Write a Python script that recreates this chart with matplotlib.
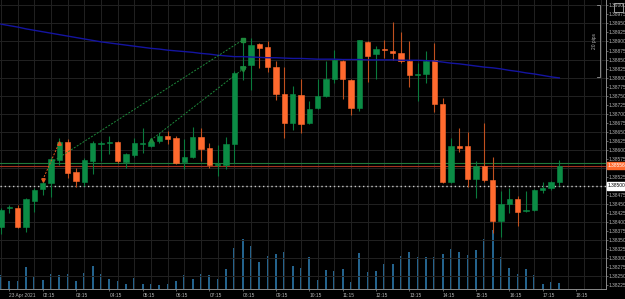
import numpy as np
import matplotlib.pyplot as plt
from matplotlib.patches import Rectangle
import matplotlib.transforms as mtransforms

plt.rcParams['font.family'] = ['Liberation Sans', 'DejaVu Sans']

# 15 minute candles, prices in pips (1e-4)
o_pips = [13838.6, 13843.8, 13843.9, 13838.7, 13845.9, 13849.0, 13850.9, 13857.1, 13862.2, 13853.9,
          13851.1, 13856.9, 13861.7, 13862.0, 13862.1, 13856.7, 13858.5, 13861.6, 13861.1, 13862.5,
          13863.8, 13863.2, 13856.7, 13858.1, 13863.6, 13860.4, 13855.8, 13855.8, 13861.6, 13882.4,
          13883.5, 13889.2, 13888.4, 13882.8, 13875.4, 13867.5, 13875.2, 13867.5, 13871.6, 13875.0,
          13879.5, 13884.6, 13879.2, 13871.6, 13889.9, 13886.5, 13887.9, 13887.4, 13886.7, 13884.6,
          13880.8, 13881.0, 13884.8, 13872.7, 13851.1, 13861.1, 13861.1, 13851.8, 13855.5, 13851.6,
          13840.2, 13844.9, 13846.3, 13843.1, 13843.3, 13848.8, 13849.3, 13851.1]
h_pips = [13843.8, 13844.7, 13844.7, 13846.6, 13849.4, 13851.9, 13858.0, 13863.2, 13862.9, 13854.9,
          13857.7, 13862.4, 13862.4, 13863.8, 13862.4, 13859.1, 13863.2, 13866.1, 13862.7, 13864.5,
          13865.2, 13863.8, 13863.0, 13866.2, 13866.1, 13861.8, 13861.3, 13863.4, 13881.8, 13890.4,
          13890.9, 13889.7, 13890.2, 13884.6, 13883.0, 13877.7, 13879.5, 13873.5, 13879.6, 13884.6,
          13887.6, 13884.9, 13879.6, 13890.4, 13890.1, 13888.8, 13890.4, 13895.5, 13892.7, 13890.1,
          13884.1, 13887.4, 13889.5, 13874.4, 13863.2, 13865.9, 13864.8, 13856.9, 13867.5, 13857.9,
          13848.6, 13849.3, 13847.2, 13848.6, 13849.1, 13851.1, 13851.3, 13857.1]
l_pips = [13836.6, 13842.5, 13838.3, 13837.2, 13842.8, 13847.4, 13847.0, 13855.8, 13852.2, 13849.7,
          13849.9, 13853.3, 13857.0, 13858.8, 13856.3, 13854.8, 13858.0, 13859.2, 13860.8, 13861.9,
          13861.6, 13856.0, 13854.6, 13857.7, 13856.8, 13854.8, 13852.8, 13854.6, 13856.2, 13879.4,
          13876.6, 13882.7, 13881.6, 13873.8, 13863.3, 13865.5, 13864.5, 13867.1, 13871.3, 13874.6,
          13878.6, 13874.0, 13869.6, 13870.7, 13878.9, 13879.5, 13885.3, 13884.9, 13884.0, 13877.5,
          13873.6, 13878.6, 13870.5, 13850.7, 13850.8, 13859.4, 13849.7, 13846.5, 13851.0, 13837.0,
          13835.7, 13842.5, 13838.9, 13842.8, 13843.0, 13848.1, 13848.8, 13850.0]
c_pips = [13843.3, 13844.0, 13838.7, 13846.3, 13848.8, 13850.9, 13857.4, 13862.2, 13853.6, 13851.3,
          13857.1, 13861.8, 13862.0, 13862.1, 13856.9, 13858.7, 13861.8, 13861.8, 13862.2, 13863.8,
          13863.1, 13856.4, 13858.1, 13863.6, 13860.2, 13855.8, 13856.0, 13861.6, 13881.4, 13883.3,
          13889.0, 13888.1, 13883.0, 13875.4, 13867.3, 13875.4, 13867.1, 13871.3, 13875.0, 13879.5,
          13884.9, 13879.5, 13871.6, 13890.4, 13886.0, 13887.8, 13887.7, 13886.7, 13884.6, 13880.7,
          13881.0, 13884.6, 13872.7, 13851.1, 13861.1, 13860.6, 13851.8, 13855.5, 13851.6, 13840.2,
          13845.0, 13846.3, 13842.7, 13843.3, 13848.8, 13849.5, 13851.0, 13855.6]
volume = [280, 170, 170, 450, 250, 180, 310, 280, 300, 160,
          330, 460, 310, 200, 160, 110, 230, 110, 100, 80,
          100, 160, 280, 200, 310, 290, 200, 400, 830, 1010,
          870, 550, 660, 700, 750, 460, 430, 650, 190, 380,
          360, 410, 140, 730, 340, 360, 500, 510, 660, 740,
          640, 640, 640, 700, 800, 740, 680, 780, 1010, 1180,
          640, 430, 310, 400, 290, 100, 140, 130]
ma_pips = [13894.8, 13894.4, 13894.0, 13893.5, 13893.1, 13892.7, 13892.3, 13891.9, 13891.5, 13891.1,
           13890.7, 13890.3, 13889.9, 13889.6, 13889.3, 13889.0, 13888.7, 13888.4, 13888.1, 13887.9,
           13887.6, 13887.4, 13887.2, 13887.0, 13886.7, 13886.5, 13886.2, 13886.0, 13885.8, 13885.8,
           13885.7, 13885.6, 13885.5, 13885.5, 13885.4, 13885.3, 13885.3, 13885.2, 13885.1, 13885.1,
           13885.1, 13885.0, 13885.0, 13885.0, 13884.9, 13884.9, 13884.9, 13884.9, 13884.8, 13884.8,
           13884.8, 13884.7, 13884.6, 13884.3, 13884.0, 13883.8, 13883.5, 13883.2, 13882.9, 13882.7,
           13882.4, 13882.0, 13881.7, 13881.3, 13881.0, 13880.6, 13880.2, 13879.9]

time_labels = ['23 Apr 2021', '02:15', '03:15', '04:15', '05:15', '06:15', '07:15', '08:15', '09:15',
               '10:15', '11:15', '12:15', '13:15', '14:15', '15:15', '16:15', '17:15', '18:15']
time_idx = [1] + [5 + 4 * i for i in range(17)]

bid = 1.38556
ask = 1.38562
level = 1.38500
# trades: (bar, price) pairs
trade_buy1 = ([6, 29], [1.38564, 1.38904])
trade_buy2 = ([18, 29], [1.38627, 1.38823])
trade_sell = ([5, 7], [1.38516, 1.38620])

o = np.array(o_pips) / 10000
h = np.array(h_pips) / 10000
l = np.array(l_pips) / 10000
c = np.array(c_pips) / 10000
ma = np.array(ma_pips) / 10000
x = np.arange(len(o))
up = c >= o

bg = '#000000'
green = '#0b8c45'
orange = '#ff6a2e'
txt = '#b4b4b4'
fs = 3.5

fig = plt.figure(figsize=(6.25, 2.99), dpi=100, facecolor=bg)
rect = [0, 10 / 299, 606 / 625, 289 / 299]
xlim = (-0.12, 72.6)
ylim = (1.38214, 1.39015)

# volume panel (behind)
vax = fig.add_axes(rect)
vax.set_facecolor(bg)
vax.vlines(x, 0, volume, color='#2f82b8', lw=1.1)
vax.set_xlim(xlim)
vax.set_ylim(0, 5780)
vax.axis('off')

ax = fig.add_axes(rect)
ax.patch.set_visible(False)
ax.set_xlim(xlim)
ax.set_ylim(ylim)

# grid
for p in np.arange(1.3825, 1.3901, 0.0005):
    ax.axhline(p, color='#222222', lw=0.7, zorder=0)
for k in np.arange(0, 73, 2):
    ax.axvline(k, color='#222222', lw=0.7, zorder=0)

# wicks and bodies
ax.vlines(x[up], l[up], h[up], color='#0a7a3c', lw=0.8, zorder=2)
ax.vlines(x[~up], l[~up], h[~up], color='#c0501f', lw=0.8, zorder=2)
body = np.maximum(np.abs(c - o), 0.000004)
ax.bar(x[up], body[up], 0.62, bottom=o[up], color=green, edgecolor=green, lw=0.4, zorder=3)
ax.bar(x[~up], body[~up], 0.62, bottom=c[~up], color=orange, edgecolor=orange, lw=0.4, zorder=3)

# moving average
ax.plot(x, ma, color='#1414a0', lw=1.0, zorder=4)

# bid / ask and level
ax.axhline(ask, color='#1f7a3a', lw=0.8, zorder=1)
ax.axhline(bid, color='#a23220', lw=0.8, zorder=1)
ax.axhline(level, color='#c8c8c8', lw=1.0, ls=(0, (1, 2)), zorder=1)

# trades
ax.plot(*trade_buy1, color='#1e8a3c', lw=0.7, ls=(0, (2, 1.5)), zorder=5)
ax.plot(*trade_buy2, color='#1e8a3c', lw=0.7, ls=(0, (2, 1.5)), zorder=5)
ax.plot(*trade_sell, color='#e05a20', lw=0.7, ls=(0, (2, 1.5)), zorder=5)
ax.plot(trade_buy1[0][1], trade_buy1[1][1], 's', color='#1e8a3c', ms=2.5, zorder=6)
ax.plot(trade_buy2[0][0], trade_buy2[1][0], '^', color='#1e8a3c', ms=3, zorder=6)
ax.plot(trade_buy2[0][1], trade_buy2[1][1], 'v', color='#1e8a3c', ms=3.5, zorder=6)
ax.plot(trade_sell[0][0], trade_sell[1][0], 'v', color='#e05a20', ms=2.5, zorder=6)
ax.plot(trade_sell[0][1], trade_sell[1][1], '^', color='#e05a20', ms=2.5, zorder=6)

# axes styling
for s in ['left', 'top']:
    ax.spines[s].set_visible(False)
ax.spines['right'].set_color('#8a8a8a')
ax.spines['bottom'].set_color('#8a8a8a')
ax.spines['right'].set_linewidth(0.7)
ax.spines['bottom'].set_linewidth(0.7)

yt = np.round(np.arange(1.38225, 1.39001, 0.00025), 5)
yl = ['' if abs(v - 1.3855) < 1e-7 or abs(v - 1.385) < 1e-7 else '%.5f' % v for v in yt]
ax.yaxis.tick_right()
ax.set_yticks(yt)
ax.set_yticklabels(yl)
ax.tick_params(axis='y', colors='#8a8a8a', labelcolor=txt, labelsize=fs, length=1.2, width=0.5, pad=0.6)

ax.set_xticks(time_idx)
ax.set_xticklabels(time_labels, ha='left')
ax.tick_params(axis='x', colors='#8a8a8a', labelcolor=txt, labelsize=fs, length=1.5, width=0.5, pad=1.2)

blend = mtransforms.blended_transform_factory(ax.transAxes, ax.transData)
ax.text(1.003, bid, '1.38556', transform=blend, ha='left', va='center', fontsize=fs, color='white',
        bbox=dict(boxstyle='square,pad=0.25', fc=orange, ec=orange), clip_on=False, zorder=10)
ax.text(1.003, level, '1.38500', transform=blend, ha='left', va='center', fontsize=fs, color='black',
        bbox=dict(boxstyle='square,pad=0.25', fc='white', ec='white'), clip_on=False, zorder=10)

# 20 pips ruler
ax.plot([71.52, 71.88, 71.88, 71.52], [1.39002, 1.39002, 1.38802, 1.38802], color='#9a9a9a', lw=0.6,
        clip_on=False)
ax.text(71.2, 1.38902, '20 pips', rotation=90, ha='center', va='center', fontsize=fs, color=txt)

# corner icon
fig.add_artist(Rectangle((614 / 625, 1 - 12 / 299), 9 / 625, 9 / 299, transform=fig.transFigure,
                         fill=False, ec='#b0b0b0', lw=0.6))

fig.savefig('out.png', dpi=100, facecolor=bg)
